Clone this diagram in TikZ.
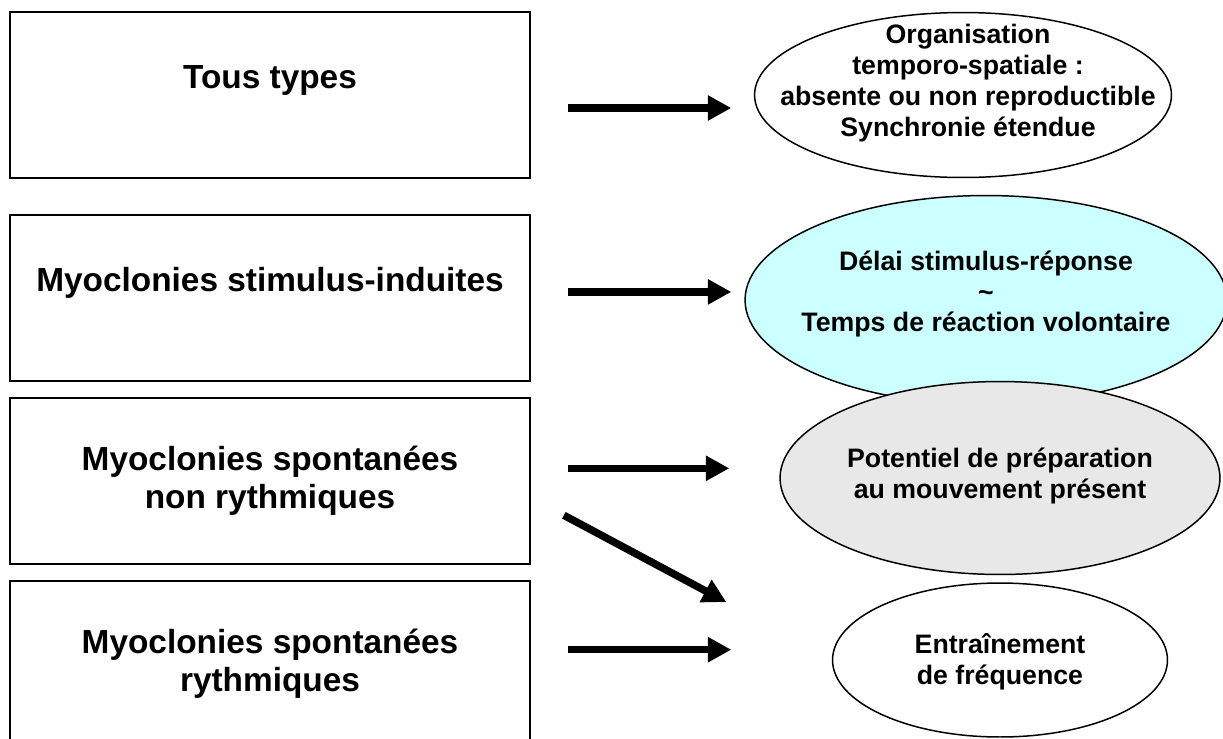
\documentclass[tikz,border=0pt]{standalone}
\usepackage{fontspec}
\setmainfont{Liberation Sans}
\usetikzlibrary{arrows.meta,positioning,shapes.geometric}
\definecolor{cyanclair}{HTML}{CCFFFF}
\definecolor{grisclair}{HTML}{E8E8E8}
\tikzset{
	%Define thick arrow
	fleche/.style={
		-{Triangle[length=0.47cm,width=0.48cm]},
		line width=0.15cm},
	%Define style for left boxes
	boite/.style={
		rectangle,
		draw=black, line width=1.1pt,
		minimum width=10.4cm,
		minimum height=3.32cm,
		align=center,
		font=\fontsize{19}{21.6}\selectfont\bfseries},
	%Define style for ellipses
	bulle/.style={
		ellipse,
		draw=black, line width=0.85pt,
		inner sep=0pt},
	% text inside ellipses
	texte/.style={
		align=center,
		font=\fontsize{15.2}{17.6}\selectfont\bfseries}
}

\begin{document}
\begin{tikzpicture}[x=0.02cm, y=-0.02cm]
	\useasboundingbox (0,0) rectangle (1223,738);
	\clip (0,0) rectangle (1223,738);
	
	\node[boite, text depth=0.73cm] (tous) at (270,95) {Tous types};
	\node[boite, text depth=0.73cm, below = 0.7cm of tous] (stim) {Myoclonies stimulus-induites};
	\node[boite, below = 0.3cm of stim] (nonrythm) {Myoclonies spontanées\\non rythmiques};
	\node[boite, below = 0.3cm of nonrythm] (rythm) {Myoclonies spontanées\\rythmiques};
	
	\node[bulle, minimum width=8.34cm, minimum height=3.3cm] (orga) at (963,95) {};
	\node[bulle, fill=cyanclair, minimum width=9.64cm, minimum height=4.18cm] (delai) at (986,300) {};
	\node[bulle, minimum width=6.7cm, minimum height=3.08cm] (entrain) at (1000,660) {};
	\node[bulle, fill=grisclair, minimum width=8.8cm, minimum height=3.86cm] (potentiel) at (1000,478) {};
	
	\node[texte, xshift=0.1cm, yshift=0.24cm] (orga-txt) at (orga) {Organisation\\temporo-spatiale :\\absente ou non reproductible\\Synchronie étendue};
	\node[texte, yshift=0.12cm] (delai-txt) at (delai) {Délai stimulus-réponse\\\textasciitilde\\Temps de réaction volontaire};
	\node[texte, yshift=0.04cm] (potentiel-txt) at (potentiel) {Potentiel de préparation\\au mouvement présent};
	\node[texte, yshift=-0.04cm] (entrain-txt) at (entrain) {Entraînement\\de fréquence};
	
	% start points of arrows
	\coordinate (d1) at ([xshift=0.74cm,yshift=-0.26cm]tous.east);
	\coordinate (d2) at ([xshift=0.74cm,yshift=0.12cm]stim.east);
	\coordinate (d3) at ([xshift=0.74cm,yshift=0.25cm]nonrythm.east);
	\coordinate (d4) at ([xshift=0.66cm,yshift=-0.69cm]nonrythm.east);
	\coordinate (d5) at ([xshift=0.74cm,yshift=0.28cm]rythm.east);
	
	\path[fleche]
	(d1) edge ([xshift=-0.45cm]d1 -| orga.west)
	(d2) edge ([xshift=-0.26cm]d2 -| delai.west)
	(d3) edge ([xshift=-1cm]d3 -| potentiel.west)
	(d4) edge ([xshift=-2.11cm,yshift=1.16cm]entrain.west)
	(d5) edge ([xshift=-2.01cm]d5 -| entrain.west);
	
\end{tikzpicture}
\end{document}
